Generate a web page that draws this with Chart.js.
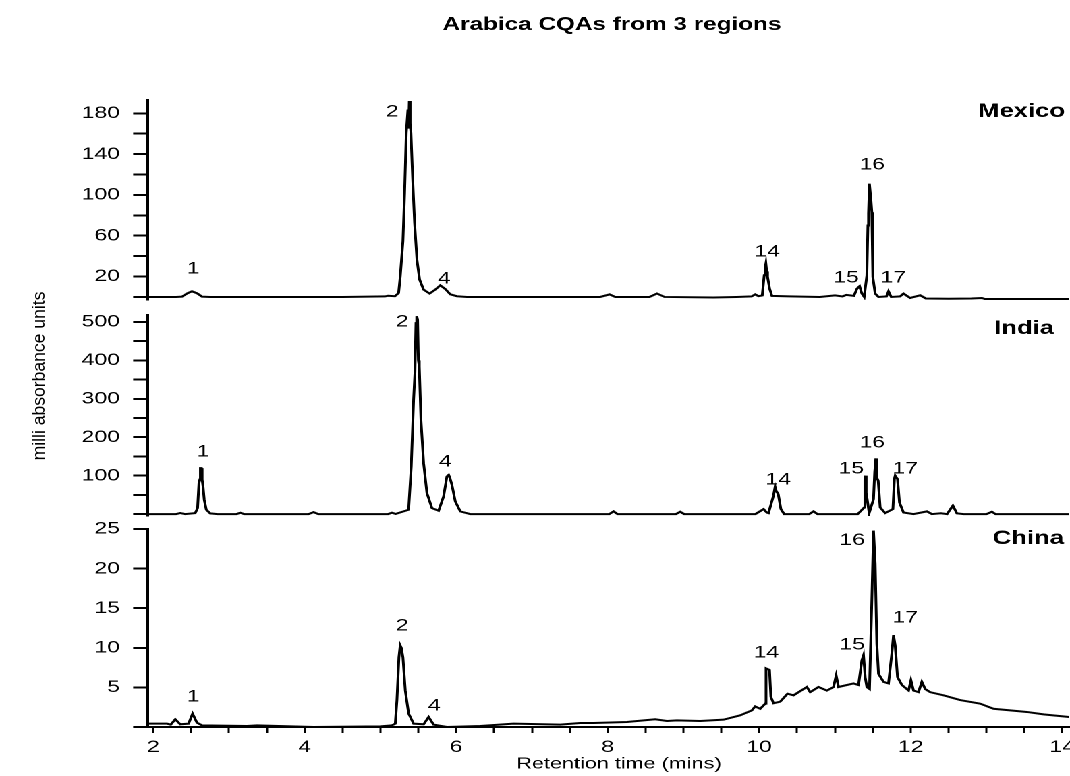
<!DOCTYPE html>
<html><head><meta charset="utf-8">
<script src="https://cdn.jsdelivr.net/npm/chart.js@4.4.1/dist/chart.umd.min.js"></script>
<style>
html,body{margin:0;padding:0;background:#fff;overflow:hidden;width:1070px;height:776px;}
#wrap{position:absolute;left:0;top:0;width:793px;height:776px;transform-origin:0 0;}
#wrap canvas{position:absolute;left:0;top:0;}
</style></head><body>
<div id="wrap">
<canvas id="cMexico" width="793" height="776" style="width:793px;height:776px"></canvas>
<canvas id="cIndia" width="793" height="776" style="width:793px;height:776px"></canvas>
<canvas id="cChina" width="793" height="776" style="width:793px;height:776px"></canvas>
</div>
<script>
// ---------------- DATA ----------------
const chartTitle = 'Arabica CQAs from 3 regions';
const xAxisTitle = 'Retention time (mins)';
const yAxisTitle = 'milli absorbance units';
const panelNames = ['Mexico', 'India', 'China'];

const xTickValues = [2,2.5,3,3.5,4,4.5,5,5.5,6,6.5,7,7.5,8,8.5,9,9.5,10,10.5,11,11.5,12,12.5,13,13.5,14];
const xTickLabels = ['2','','','','4','','','','6','','','','8','','','','10','','','','12','','','','14'];

const mexicoTicks = [0,20,40,60,80,100,120,140,160,180];
const mexicoTickLabels = ['','20','','60','','100','','140','','180'];
const indiaTicks = [0,50,100,150,200,250,300,350,400,450,500];
const indiaTickLabels = ['','','100','','200','','300','','400','','500'];
const chinaTicks = [0,5,10,15,20,25];
const chinaTickLabels = ['','5','10','15','20','25'];

const mexicoTime = [1.93,2.30,2.379,2.45,2.511,2.58,2.643,2.75,4.50,5.06,5.10,5.19,5.239,5.261,5.296,5.318,5.340,5.362,5.372,5.380,5.391,5.402,5.424,5.450,5.481,5.516,5.568,5.648,5.723,5.789,5.855,5.921,6.009,6.141,7.90,8.024,8.10,8.55,8.650,8.75,9.40,9.70,9.90,9.947,9.99,10.04,10.066,10.077,10.088,10.099,10.110,10.137,10.168,10.40,10.80,11.00,11.10,11.15,11.25,11.290,11.325,11.355,11.386,11.421,11.435,11.443,11.455,11.465,11.475,11.487,11.500,11.531,11.575,11.68,11.707,11.743,11.86,11.905,11.993,12.125,12.20,12.50,12.80,12.94,12.98,14.09];
const mexicoAbs  = [0,0,0.3,3.5,5.5,3.5,0.3,0,0,0.5,1.2,0.7,3.9,20.3,54.6,101.9,160.7,183.6,165,192,170,160.7,116.6,72.5,36.6,17.0,7.2,3.3,7.2,11.4,7.8,2.6,0.7,0,0,2.5,0,0,3.3,0,-0.5,0,0.5,2.5,0.8,1.5,21.2,28,32.7,25,19.6,8.2,1,0.5,0,1.5,0.5,2,1,8,10.5,3.3,0,21,70,81.7,111,111,95,83,19.6,3.3,0,0.5,5.5,0,0.5,3.3,-1,1.6,-1.5,-1.8,-1.5,-1,-2,-2];

const indiaTime = [1.93,2.30,2.356,2.42,2.554,2.585,2.603,2.615,2.622,2.635,2.645,2.658,2.673,2.700,2.752,2.85,3.10,3.148,3.20,4.05,4.116,4.18,5.10,5.151,5.20,5.371,5.406,5.437,5.455,5.468,5.478,5.490,5.500,5.512,5.534,5.569,5.613,5.679,5.767,5.833,5.877,5.900,5.915,5.943,5.987,6.053,6.185,8.02,8.077,8.13,8.90,8.957,9.01,9.95,10.057,10.100,10.123,10.189,10.210,10.225,10.251,10.286,10.330,10.66,10.717,10.77,11.30,11.386,11.395,11.403,11.412,11.425,11.452,11.509,11.525,11.540,11.552,11.571,11.597,11.663,11.765,11.785,11.795,11.812,11.826,11.852,11.905,12.037,12.214,12.28,12.40,12.48,12.557,12.610,12.70,13.00,13.072,13.12,14.09];
const indiaAbs  = [0,0,2.6,0,2.6,15.6,80.7,90,119.7,119.7,90,70,37,11.3,1.7,0,0,3.5,0,0,5.2,0,0,3.5,0.5,11.3,124,297.5,370,497,515,505.7,400,384,245,132.7,54.6,15.6,8.7,46,98,102,95,76,33,7,0,0,7,0,0,6,0,0,13,4,2.6,48.6,71,60,52,13,0,0,7,0,0,17,90,100,55,39,2.6,39,110,145,95,87,17,2.6,13,92,100,95,91,30,4,0,7,0,2,0,22,2,0,0,6,0,0];

const chinaTime = [1.93,2.181,2.23,2.290,2.356,2.466,2.519,2.576,2.643,3.237,3.369,4.116,4.997,5.151,5.195,5.217,5.243,5.260,5.275,5.296,5.327,5.371,5.437,5.569,5.635,5.701,5.877,6.317,6.756,7.373,7.637,7.813,8.253,8.627,8.781,8.913,9.221,9.529,9.749,9.903,9.947,10.013,10.079,10.090,10.136,10.154,10.189,10.277,10.374,10.453,10.629,10.673,10.783,10.893,10.981,11.016,11.047,11.245,11.311,11.355,11.377,11.399,11.421,11.456,11.487,11.509,11.531,11.553,11.575,11.641,11.707,11.751,11.773,11.795,11.826,11.884,11.972,12.003,12.037,12.103,12.147,12.191,12.257,12.433,12.653,12.917,13.093,13.534,13.754,14.09];
const chinaAbs  = [0.42,0.42,0.3,0.97,0.34,0.42,1.68,0.55,0.21,0.13,0.21,0,0.08,0.21,0.42,3.4,8.8,10.3,10.0,8.8,4.6,1.7,0.42,0.34,1.26,0.3,0,0.13,0.42,0.3,0.5,0.5,0.63,0.97,0.76,0.84,0.76,0.93,1.47,2.1,2.6,2.3,2.95,7.4,7.2,3.8,3.0,3.2,4.2,4.0,5.05,4.4,5.05,4.6,5.05,6.5,5.05,5.5,5.3,8.4,9.05,6.3,5.05,4.8,16,24.8,20.6,10.5,6.7,5.7,5.5,9.3,11.6,10.3,6.3,5.3,4.6,5.9,4.6,4.4,5.7,4.8,4.4,4.0,3.4,2.95,2.3,1.9,1.6,1.26];

const peakNames = ['1','2','4','14','15','16','17'];
const mexicoPeakTime = [2.528,5.155,5.842,10.106,11.149,11.492,11.769];
const mexicoPeakAbs  = [27.4,181.2,17.6,44.0,18.6,129.3,18.6];
const indiaPeakTime  = [2.660,5.287,5.855,10.251,11.215,11.492,11.927];
const indiaPeakAbs   = [161.5,499.8,135.5,88.6,117.3,185,117.3];
const chinaPeakTime  = [2.528,5.287,5.710,10.093,11.228,11.228,11.927];
const chinaPeakAbs   = [3.8,12.75,2.65,9.34,10.35,23.6,13.76];

// ---------------- LAYOUT / STYLE ----------------
const S = 1070 / 793;               // horizontal stretch of the whole figure
const tx = px => px / S;            // page px -> canvas px
document.getElementById('wrap').style.transform = 'scaleX(' + S + ')';
const FONT = "'Liberation Sans', Arial, Helvetica, sans-serif";
Chart.defaults.font.family = FONT;
Chart.defaults.color = '#000';
const X_MIN = 1.93, X_MAX = 14.09, X_AXIS_H = 47;

function panelChart(cfg) {
  const pts = cfg.times.map((t, i) => ({ x: t, y: cfg.values[i] }));
  const textPlugin = {
    id: 'panelText',
    afterDatasetsDraw(chart) {
      const { ctx, scales: { x, y } } = chart;
      ctx.save();
      ctx.fillStyle = '#000';
      ctx.textAlign = 'center';
      ctx.textBaseline = 'middle';
      ctx.font = '17px ' + FONT;
      peakNames.forEach((n, i) => {
        ctx.fillText(n, x.getPixelForValue(cfg.peakTimes[i]), y.getPixelForValue(cfg.peakAbs[i]));
      });
      ctx.font = 'bold 19px ' + FONT;
      ctx.textAlign = 'right';
      ctx.fillText(cfg.name, tx(cfg.nameX), cfg.nameY);
      ctx.restore();
    }
  };
  const plugins = [textPlugin];
  if (cfg.extra) plugins.push(cfg.extra);
  return new Chart(document.getElementById(cfg.canvas), {
    type: 'line',
    data: { datasets: [{ data: pts, borderColor: '#000', borderWidth: 2, pointRadius: 0, tension: 0, fill: false }] },
    options: {
      responsive: false, animation: false, devicePixelRatio: 2, events: [],
      layout: { padding: { left: 0, right: 793 - tx(1069), top: cfg.top, bottom: 776 - cfg.bottom - (cfg.showX ? X_AXIS_H : 0) } },
      plugins: { legend: { display: false }, tooltip: { enabled: false }, title: { display: false } },
      scales: {
        x: {
          type: 'linear', min: X_MIN, max: X_MAX, display: cfg.showX,
          afterBuildTicks: s => { s.ticks = xTickValues.map(v => ({ value: v })); },
          afterFit: s => { s.height = cfg.showX ? X_AXIS_H : 0; s.paddingLeft = 0; s.paddingRight = 0; },
          grid: { display: true, drawOnChartArea: false, drawTicks: true, tickLength: 6, tickWidth: 1.5, tickColor: '#000', color: '#000' },
          border: { display: true, color: '#000', width: 2 },
          ticks: { autoSkip: false, maxRotation: 0, minRotation: 0, padding: 4, font: { size: 17 }, color: '#000',
                   callback: (v, i) => xTickLabels[i] }
        },
        y: {
          type: 'linear', min: cfg.yMin, max: cfg.yMax,
          afterBuildTicks: s => { s.ticks = cfg.yTicks.map(v => ({ value: v })); },
          afterFit: s => { s.width = tx(148); s.paddingTop = 0; s.paddingBottom = 0; },
          grid: { display: true, drawOnChartArea: false, drawTicks: true, tickLength: 11, tickWidth: 2, tickColor: '#000', color: '#000' },
          border: { display: true, color: '#000', width: 2 },
          ticks: { autoSkip: false, padding: 9.8, font: { size: 17 }, color: '#000',
                   callback: (v, i) => cfg.yLabels[i] }
        }
      }
    },
    plugins
  });
}

const figureText = {
  id: 'figureText',
  afterDraw(chart) {
    const ctx = chart.ctx;
    ctx.save();
    ctx.fillStyle = '#000';
    ctx.textAlign = 'center';
    ctx.textBaseline = 'middle';
    ctx.font = 'bold 18px ' + FONT;
    ctx.fillText(chartTitle, tx(612), 25);
    ctx.font = '16px ' + FONT;
    ctx.fillText(xAxisTitle, tx(619), 764);
    ctx.translate(tx(40), 376);
    ctx.rotate(-Math.PI / 2);
    ctx.scale(1.35, 1);
    ctx.font = '13px ' + FONT;
    ctx.fillText(yAxisTitle, 0, 0);
    ctx.restore();
  }
};

panelChart({ canvas: 'cMexico', times: mexicoTime, values: mexicoAbs, yMin: -3, yMax: 193,
  yTicks: mexicoTicks, yLabels: mexicoTickLabels, top: 100, bottom: 300, showX: false,
  name: panelNames[0], nameX: 1065, nameY: 112, peakTimes: mexicoPeakTime, peakAbs: mexicoPeakAbs });
panelChart({ canvas: 'cIndia', times: indiaTime, values: indiaAbs, yMin: -5, yMax: 518,
  yTicks: indiaTicks, yLabels: indiaTickLabels, top: 315, bottom: 516, showX: false,
  name: panelNames[1], nameX: 1054, nameY: 329, peakTimes: indiaPeakTime, peakAbs: indiaPeakAbs });
panelChart({ canvas: 'cChina', times: chinaTime, values: chinaAbs, yMin: 0, yMax: 25,
  yTicks: chinaTicks, yLabels: chinaTickLabels, top: 529, bottom: 727, showX: true,
  name: panelNames[2], nameX: 1064, nameY: 539, peakTimes: chinaPeakTime, peakAbs: chinaPeakAbs, extra: figureText });
</script>
</body></html>
